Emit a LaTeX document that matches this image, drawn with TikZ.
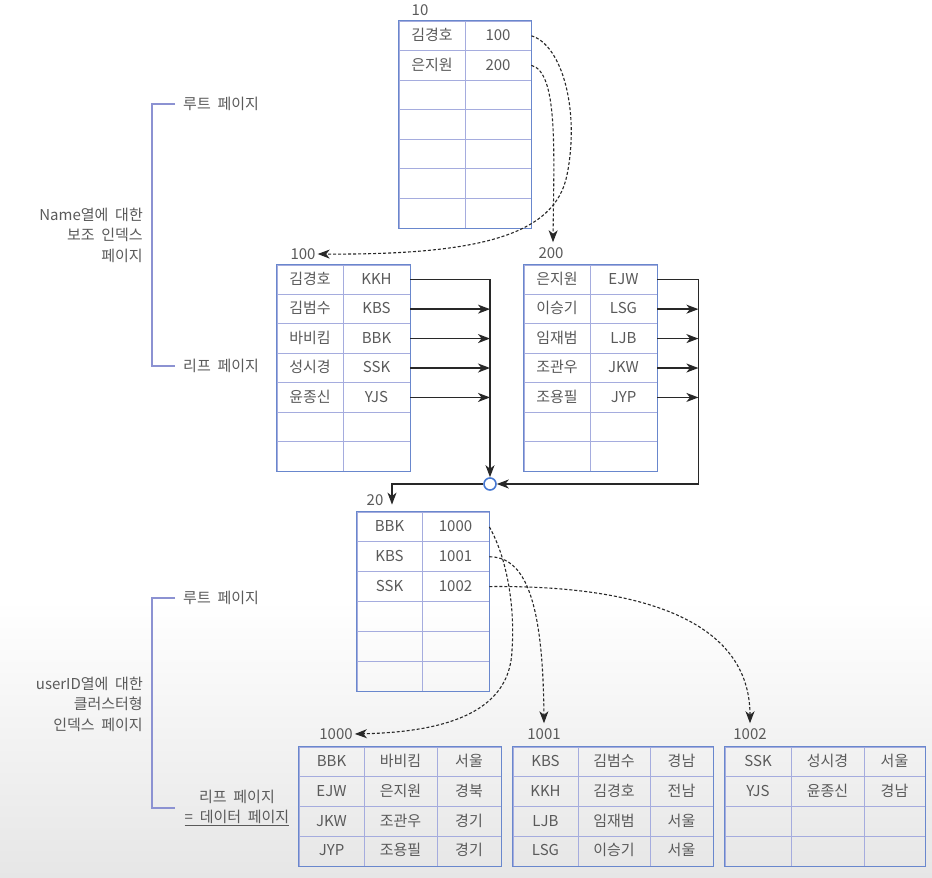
\documentclass[tikz,border=0pt]{standalone}
\usepackage{fontspec}
\setmainfont[WordSpace=2]{Noto Sans CJK KR}
\usetikzlibrary{arrows.meta,calc}
\definecolor{txt}{RGB}{90,90,90}
\definecolor{outerc}{RGB}{105,135,205}
\definecolor{innerc}{RGB}{165,172,222}
\definecolor{brkc}{RGB}{140,146,210}
\definecolor{hubc}{RGB}{70,120,210}
\definecolor{linec}{RGB}{40,40,40}
\definecolor{bggray}{RGB}{230,230,230}
\newcommand\fs{\fontsize{15}{20.5}\selectfont}
\begin{document}
\begin{tikzpicture}[x=1pt,y=-1pt,
  cell/.style={draw=innerc,line width=0.8pt,inner sep=0pt,text=txt,font=\fs,text height=11.5pt,text depth=2pt,anchor=center},
  outerbox/.style={draw=outerc,line width=1.4pt},
  lbl/.style={text=txt,font=\fs,inner sep=2pt},
  brk/.style={draw=brkc,line width=1.2pt},
  conn/.style={draw=linec,line width=1.3pt,-{Stealth[length=12pt,width=9pt,inset=3.5pt]}},
  dconn/.style={draw=linec,line width=1.1pt,dash pattern=on 3pt off 2pt,-{Stealth[length=12pt,width=9pt,inset=3.5pt]}}]
\fill[white] (0,0) rectangle (932,878);
\shade[top color=white,bottom color=bggray] (0,600) rectangle (932,878);
\useasboundingbox (0,0) rectangle (932,878);

% Table 10
\foreach \r/\a/\b in {1/김경호/100,2/은지원/200,3/{}/{},4/{}/{},5/{}/{},6/{}/{},7/{}/{}}{
  \node[cell,minimum width=66pt,minimum height=29.57pt] (A-\r-1) at (432,{21+29.57*(\r-0.5)}) {\a};
  \node[cell,minimum width=66pt,minimum height=29.57pt] (A-\r-2) at (498,{21+29.57*(\r-0.5)}) {\b};
}
\draw[outerbox] (A-1-1.north west) rectangle (A-7-2.south east);

% Table 100
\foreach \r/\a/\b in {1/김경호/KKH,2/김범수/KBS,3/바비킴/BBK,4/성시경/SSK,5/윤종신/YJS,6/{}/{},7/{}/{}}{
  \node[cell,minimum width=66pt,minimum height=29.43pt] (B-\r-1) at (310,{265+29.43*(\r-0.5)}) {\a};
  \node[cell,minimum width=67pt,minimum height=29.43pt] (B-\r-2) at (376.5,{265+29.43*(\r-0.5)}) {\b};
}
\draw[outerbox] (B-1-1.north west) rectangle (B-7-2.south east);

% Table 200
\foreach \r/\a/\b in {1/은지원/EJW,2/이승기/LSG,3/임재범/LJB,4/조관우/JKW,5/조용필/JYP,6/{}/{},7/{}/{}}{
  \node[cell,minimum width=66pt,minimum height=29.43pt] (C-\r-1) at (557,{265+29.43*(\r-0.5)}) {\a};
  \node[cell,minimum width=67pt,minimum height=29.43pt] (C-\r-2) at (623.5,{265+29.43*(\r-0.5)}) {\b};
}
\draw[outerbox] (C-1-1.north west) rectangle (C-7-2.south east);

% Table 20
\foreach \r/\a/\b in {1/BBK/1000,2/KBS/1001,3/SSK/1002,4/{}/{},5/{}/{},6/{}/{}}{
  \node[cell,minimum width=65pt,minimum height=29.83pt] (D-\r-1) at (389.5,{512+29.83*(\r-0.5)}) {\a};
  \node[cell,minimum width=67pt,minimum height=29.83pt] (D-\r-2) at (455.5,{512+29.83*(\r-0.5)}) {\b};
}
\draw[outerbox] (D-1-1.north west) rectangle (D-6-2.south east);

% Table 1000
\foreach \r/\a/\b/\c in {1/BBK/바비킴/서울,2/EJW/은지원/경북,3/JKW/조관우/경기,4/JYP/조용필/경기}{
  \node[cell,minimum width=65pt,minimum height=29.75pt] (E-\r-1) at (331.5,{747+29.75*(\r-0.5)}) {\a};
  \node[cell,minimum width=73pt,minimum height=29.75pt] (E-\r-2) at (400.5,{747+29.75*(\r-0.5)}) {\b};
  \node[cell,minimum width=64pt,minimum height=29.75pt] (E-\r-3) at (469,{747+29.75*(\r-0.5)}) {\c};
}
\draw[outerbox] (E-1-1.north west) rectangle (E-4-3.south east);

% Table 1001
\foreach \r/\a/\b/\c in {1/KBS/김범수/경남,2/KKH/김경호/전남,3/LJB/임재범/서울,4/LSG/이승기/서울}{
  \node[cell,minimum width=65pt,minimum height=29.75pt] (F-\r-1) at (545.5,{747+29.75*(\r-0.5)}) {\a};
  \node[cell,minimum width=72pt,minimum height=29.75pt] (F-\r-2) at (614,{747+29.75*(\r-0.5)}) {\b};
  \node[cell,minimum width=63pt,minimum height=29.75pt] (F-\r-3) at (681.5,{747+29.75*(\r-0.5)}) {\c};
}
\draw[outerbox] (F-1-1.north west) rectangle (F-4-3.south east);

% Table 1002
\foreach \r/\a/\b/\c in {1/SSK/성시경/서울,2/YJS/윤종신/경남,3/{}/{}/{},4/{}/{}/{}}{
  \node[cell,minimum width=66pt,minimum height=29.75pt] (G-\r-1) at (758,{747+29.75*(\r-0.5)}) {\a};
  \node[cell,minimum width=73pt,minimum height=29.75pt] (G-\r-2) at (827.5,{747+29.75*(\r-0.5)}) {\b};
  \node[cell,minimum width=61pt,minimum height=29.75pt] (G-\r-3) at (894.5,{747+29.75*(\r-0.5)}) {\c};
}
\draw[outerbox] (G-1-1.north west) rectangle (G-4-3.south east);

% page labels
\node[lbl] (L10) at (420,10) {10};
\node[lbl] (L100) at (303,254) {100};
\node[lbl] (L200) at (551,253) {200};
\node[lbl] (L20) at (375,500) {20};
\node[lbl] (L1000) at (336,734) {1000};
\node[lbl] (L1001) at (544,734) {1001};
\node[lbl] (L1002) at (750,734) {1002};

% hub
\node[circle,draw=hubc,line width=1.6pt,fill=white,minimum size=12pt,inner sep=0pt] (hub) at (490,484) {};

% solid connectors
\draw[conn] (B-1-2.east) -| (hub.north);
\foreach \r in {2,...,5} \draw[conn] (B-\r-2.east) -- (B-\r-2.east -| hub.north);
\draw[conn] (C-1-2.east) -- ++(41,0) coordinate (cbus) |- (hub.east);
\foreach \r in {2,...,5} \draw[conn] (C-\r-2.east) -- (C-\r-2.east -| cbus);
\draw[conn] (hub.west) -| ([xshift=2.5pt,yshift=7pt]D-1-1.north);

% dashed connectors
\draw[dconn] (A-1-2.east) .. controls (562,45) and (580,110) .. (567,175) .. controls (555,235) and (480,255) .. (L100.east);
\draw[dconn] (A-2-2.east) .. controls (558,72) and (554,150) .. ([xshift=2pt,yshift=3pt]L200.north);
\draw[dconn] (D-1-2.east) .. controls (508,560) and (515,610) .. (512,650) .. controls (510,715) and (440,732) .. (L1000.east);
\draw[dconn] (D-2-2.east) .. controls (525,557) and (543,600) .. ([yshift=3pt]L1001.north);
\draw[dconn] (D-3-2.east) .. controls (640,585) and (750,620) .. ([yshift=3pt]L1002.north);

% left brackets
\node[lbl,anchor=west] (R1) at (181,104) {루트 페이지};
\node[lbl,anchor=west] (F1) at (181,366) {리프 페이지};
\draw[brk] ([xshift=-6pt]R1.west) -- ++(-23,0) coordinate (b1) -- (b1 |- F1.west) -- ([xshift=-6pt]F1.west);
\node[lbl,anchor=east,align=right] (N1) at (145,235) {Name열에 대한\\보조 인덱스\\페이지};

\node[lbl,anchor=west] (R2) at (181,598) {루트 페이지};
\node[lbl,align=center] (F2) at (237,808) {리프 페이지\\\underline{= 데이터 페이지}};
\draw[brk] ([xshift=-6pt]R2.west) -- ++(-23,0) coordinate (b2) -- (b2 |- F2.west) -- ++(23,0);
\node[lbl,anchor=east,align=right] (N2) at (145,704) {userID열에 대한\\클러스터형\\인덱스 페이지};
\end{tikzpicture}
\end{document}
